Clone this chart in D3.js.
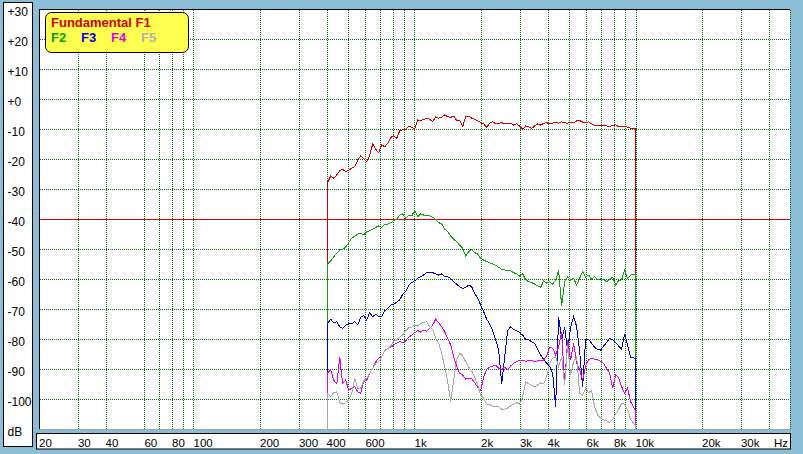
<!DOCTYPE html>
<html><head><meta charset="utf-8">
<script src="https://cdn.jsdelivr.net/npm/d3@7"></script>
<style>
body{margin:0;background:#8cbdd6;}
svg{display:block;}
</style></head><body>
<svg id="c" width="803" height="454"></svg>
<script>
// ---- data ----
const freqs = [403,418,431,445,459,473,488,504,520,537,554,571,589,608,627,647,668,689,711,733,757,781,805,831,857,885,913,942,971,1002,1034,1067,1101,1136,1172,1209,1247,1287,1328,1370,1413,1458,1504,1552,1601,1652,1705,1759,1814,1872,1931,1993,2056,2121,2189,2258,2330,2404,2480,2559,2640,2723,2810,2899,2991,3086,3184,3285,3389,3497,3608,3722,3840,3962,4088,4218,4351,4489,4632,4779,4931,5087,5248,5415,5587,5764,5947,6136,6330,6531,6739,6952,7173,7401,7636,7878,8128,8386,8652,8926,9210,9502,9950];
const f1 = [-28,-25.7,-26.4,-25.3,-23.9,-23.4,-24.2,-23.7,-23.1,-22.6,
 -20.3,-19,-19.8,-20.9,-18.7,-15,-16.8,-17.9,-15.3,-15.9,
 -14.8,-12.8,-12.3,-13.1,-10.6,-10.3,-10.1,-9.2,-9.4,-10.1,
 -7,-7.2,-6.8,-6.4,-6.8,-7.6,-5.9,-6.4,-6.1,-5.3,
 -5.9,-6.1,-5.7,-7.2,-7.2,-9.2,-5.9,-5.7,-6.4,-6.8,
 -7.2,-7.9,-8.3,-9.4,-8.1,-7.6,-8.3,-8.1,-7.9,-8.3,
 -8.3,-8.1,-8.7,-8.3,-9,-10.1,-9,-9.2,-9.8,-9,
 -8.3,-8.7,-8.1,-7.9,-8.3,-8.1,-7.7,-8.1,-7.6,-7.9,
 -8.1,-7.7,-7.9,-7.3,-7.2,-7.7,-7.9,-7.6,-8.3,-8.7,
 -9,-8.7,-8.8,-9,-9.2,-8.8,-8.6,-9.2,-9.2,-9,
 -9.4,-9.7,-9.9];
const f2 = [-55,-54,-52.6,-51.4,-50.3,-50.1,-49.4,-47.9,-46.4,-45.7,
 -45,-44.8,-45.2,-44.3,-43.9,-43.4,-42.8,-42.3,-42.8,-41.7,
 -41.7,-41.2,-40.6,-40.1,-38.7,-38.3,-39.8,-38.7,-39,-37.2,
 -39.2,-38.3,-38.7,-38.7,-39,-39.4,-40.1,-41.2,-41.7,-43.4,
 -44.2,-45.7,-46.8,-47.6,-48.7,-49.8,-52.3,-50.9,-50.1,-51.2,
 -51.7,-53.1,-53.7,-54.2,-54.6,-55,-55.4,-56.1,-56.8,-57,
 -57,-57.2,-57.9,-58.3,-59,-58.3,-60.3,-60.9,-61.2,-61.7,
 -62.3,-62.8,-60.6,-61.4,-60.9,-61.7,-60.3,-57.2,-69,-60.9,
 -59.2,-60.3,-59.8,-62,-59.8,-57.6,-59.4,-58.7,-60.1,-59.2,
 -60.3,-59.9,-60.3,-60.9,-60.1,-59.4,-62,-60.6,-60.3,-57,
 -59.8,-58.7,-58.3];
const f3 = [-75,-73.4,-74.6,-74.3,-75.9,-76.5,-75.4,-74.8,-75,-74.2,
 -75.2,-72.8,-72.1,-73.7,-71.2,-72.6,-71.7,-72.6,-72.6,-70.6,
 -69.8,-68.7,-68.4,-67.7,-67,-65,-64.2,-62,-61.2,-60.6,
 -59.8,-59.2,-58.6,-57.9,-57.9,-57.9,-58.3,-58.7,-58.3,-59.2,
 -59.2,-59.9,-60.9,-61.7,-62.6,-63.2,-62.8,-62,-62.6,-64.8,
 -66.4,-68.7,-70.9,-73.4,-75,-77.2,-80.3,-83.7,-95,-85.9,
 -77.2,-75.9,-76.8,-77.2,-77.9,-78.7,-80.1,-80.3,-80.9,-81.4,
 -83.4,-85.3,-86.8,-88.1,-89.2,-91.4,-102.6,-72.6,-80,-76,
 -84,-76,-72.5,-75.9,-84,-96,-80.1,-80.1,-81.4,-82.8,
 -83.4,-83.7,-82.3,-81.2,-79.8,-80.3,-81.2,-82.3,-83.4,-78.3,
 -82,-86.1,-86.4];
const f4 = [-91.4,-90.3,-93.7,-95,-86,-94.8,-93.7,-97,-96.4,-95.9,
 -97.6,-98.1,-94.2,-93.7,-91.4,-89.8,-87.6,-86.4,-85.7,-83.9,
 -83.1,-82.8,-82,-81.4,-80.9,-81.2,-80.6,-79.4,-78.7,-77.9,
 -77.2,-77.7,-77,-77.4,-76.5,-75.3,-73.4,-74.6,-75.9,-77.6,
 -79.8,-82,-85.9,-89.2,-91.4,-92,-93.4,-93.1,-93.2,-94.6,
 -96.1,-97.2,-92.6,-90.1,-89.4,-89,-88.7,-89.8,-90.1,-89.4,
 -90.3,-89,-88.1,-87.6,-87,-87.2,-87.4,-87.2,-87,-87.6,
 -87.2,-87,-87,-85.7,-82.8,-83.1,-85.3,-82.6,-77.6,-95,
 -80.3,-87,-81.4,-88.1,-90.3,-93.7,-89,-87,-86.4,-86.8,
 -87,-87.4,-88.1,-89.8,-91.4,-96.4,-92,-92.8,-95.9,-98.1,
 -96.4,-100.9,-103.7];
const f5 = [-98.1,-99.2,-97.9,-97.6,-101.2,-101.7,-101.2,-100.3,-98.1,-93.1,
 -96.4,-96.4,-93.9,-93.1,-91.4,-89.8,-88.1,-87.6,-85.9,-83.9,
 -83.2,-82.3,-80.7,-80.3,-79.4,-78.6,-77.2,-76.2,-76.1,-75.3,
 -75.7,-74.7,-74.6,-74.3,-75.9,-76.8,-79.8,-81.4,-85,-89.2,
 -94.2,-100.9,-93.7,-87,-84.8,-85.7,-87.6,-89.4,-90.6,-92.8,
 -95.3,-98.7,-99.8,-101.7,-101.7,-102.6,-102.6,-102.6,-103.4,-103.4,
 -103,-102.3,-101.7,-101.2,-101.7,-99.4,-94.2,-95,-95.4,-95.9,
 -95.3,-94.6,-95,-92.6,-88.1,-86.4,-85.9,-89.2,-85.9,-95.3,
 -82,-92,-87.6,-85.9,-98.1,-98.7,-96.4,-97.9,-97.2,-102.6,
 -105.3,-106.4,-107,-107.2,-107.9,-106.8,-105,-103.4,-101.4,-101.7,
 -103.7,-106.8,-108.7];
const seriesNames = ["Fundamental F1","F2","F3","F4","F5"];
const seriesColors = ["#d00000","#10a010","#0000d0","#e000e0","#a8a8a8"];
const legendColors = ["#d00000","#00a000","#0000e0","#e000e0","#b0b0b0"];
const yTickValues = [30,20,10,0,-10,-20,-30,-40,-50,-60,-70,-80,-90,-100,-110];
const yTickLabels = ["+30","+20","+10","+0","-10","-20","-30","-40","-50","-60","-70","-80","-90","-100","dB"];
const xTickValues = [20,30,40,60,80,100,200,300,400,600,1000,2000,3000,4000,6000,8000,10000,20000,30000];
const xTickLabels = ["20","30","40","60","80","100","200","300","400","600","1k","2k","3k","4k","6k","8k","10k","20k","30k"];
const xGridValues = [30,40,60,70,80,90,100,200,300,400,500,600,700,800,900,1000,2000,3000,4000,5000,6000,7000,8000,9000,10000,20000,30000,40000,50000];
const yGridValues = [20,10,0,-10,-20,-30,-50,-60,-70,-80,-90,-100];
const refLevel = -40;
const floorLevel = -110;

// ---- drawing ----
const svg = d3.select("#c");
const x = d3.scaleLog().domain([20,50000]).range([39,790]);
const y = d3.scaleLinear().domain([30,-110]).range([9,429]);
const px = v => Math.round(x(v)) + 0.5;
const py = v => Math.round(y(v)) + 0.5;

svg.append("rect").attr("width",803).attr("height",454).attr("fill","#8cbdd6");
// y label panel
svg.append("rect").attr("x",3.5).attr("y",2.5).attr("width",29).attr("height",444)
  .attr("fill","#fff").attr("stroke","#000");
// plot area
svg.append("rect").attr("x",39).attr("y",9).attr("width",751).attr("height",420).attr("fill","#fff");

const grid = svg.append("g").attr("stroke","#007000").attr("stroke-dasharray","1,1").attr("shape-rendering","crispEdges");
grid.selectAll("line.v").data(xGridValues).join("line").attr("class","v")
  .attr("x1",d=>px(d)).attr("x2",d=>px(d)).attr("y1",10).attr("y2",429);
grid.selectAll("line.h").data(yGridValues).join("line").attr("class","h")
  .attr("y1",d=>py(d)).attr("y2",d=>py(d)).attr("x1",40).attr("x2",790);

svg.append("line").attr("x1",39).attr("x2",790).attr("y1",py(refLevel)).attr("y2",py(refLevel))
  .attr("stroke","#e00000").attr("stroke-width",1).attr("shape-rendering","crispEdges");

// borders
svg.append("line").attr("x1",39).attr("x2",790).attr("y1",9.5).attr("y2",9.5).attr("stroke","#000").attr("shape-rendering","crispEdges");
svg.append("line").attr("x1",39.5).attr("x2",39.5).attr("y1",9).attr("y2",429).attr("stroke","#000").attr("shape-rendering","crispEdges");
svg.append("line").attr("x1",39).attr("x2",791).attr("y1",429.5).attr("y2",429.5).attr("stroke","#a0a0a0").attr("shape-rendering","crispEdges");

// series
const allSeries = [f1,f2,f3,f4,f5];
const line = d3.line().x(d=>x(d[0])).y(d=>y(d[1]));
allSeries.forEach((vals,i)=>{
  const pts = [[freqs[0],floorLevel]].concat(vals.map((v,j)=>[freqs[j],v]), [[freqs[freqs.length-1],floorLevel]]);
  svg.append("path").datum(pts).attr("d",line).attr("fill","none")
    .attr("stroke",seriesColors[i]).attr("stroke-width",1).attr("shape-rendering","crispEdges");
});

// legend
const lg = svg.append("g");
lg.append("rect").attr("x",45.5).attr("y",12.5).attr("width",143).attr("height",40).attr("rx",6)
  .attr("fill","#ffff50").attr("stroke","#000");
const lfont = "'Liberation Sans', Arial, sans-serif";
lg.append("text").attr("x",51).attr("y",26.5).text(seriesNames[0]).attr("fill",legendColors[0])
  .attr("font-family",lfont).attr("font-weight","bold").attr("font-size",13);
[1,2,3,4].forEach((k,i)=>{
  lg.append("text").attr("x",51+30*i).attr("y",41.5).text(seriesNames[k]).attr("fill",legendColors[k])
    .attr("font-family",lfont).attr("font-weight","bold").attr("font-size",13);
});

// x label panel
svg.append("rect").attr("x",36.5).attr("y",433.5).attr("width",754).attr("height",15.5)
  .attr("fill","#fff").attr("stroke","#000");

const afont = "'Liberation Sans', Arial, sans-serif";
// y axis
const gy = svg.append("g").call(d3.axisLeft(y).tickValues(yTickValues).tickFormat((d,i)=>yTickLabels[i]).tickSize(0));
gy.select(".domain").remove();
gy.attr("font-family",afont).attr("font-size",12);
gy.selectAll("text").attr("x",7.5).attr("y",6).attr("dy",null).attr("text-anchor","start").attr("fill","#000");

// x axis
const gx = svg.append("g").attr("transform","translate(0,447)")
  .call(d3.axisBottom(x).tickValues(xTickValues).tickFormat((d,i)=>xTickLabels[i]).tickSize(0));
gx.select(".domain").remove();
gx.attr("font-family",afont).attr("font-size",11.5);
gx.selectAll("text").attr("x",-0.5).attr("y",0).attr("dy",null).attr("text-anchor","start").attr("fill","#000");
svg.append("text").attr("x",788).attr("y",447).attr("text-anchor","end").text("Hz")
  .attr("font-family",afont).attr("font-size",11.5);
</script>
</body></html>
